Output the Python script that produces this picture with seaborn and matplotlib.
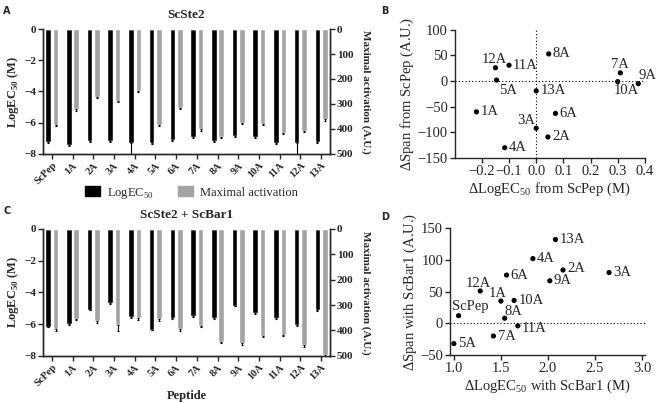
import numpy as np
import pandas as pd
import matplotlib.pyplot as plt
import seaborn as sns
from matplotlib.patches import Patch

peptides = ['ScPep', '1A', '2A', '3A', '4A', '5A', '6A', '7A', '8A', '9A', '10A', '11A', '12A', '13A']

# panel A: ScSte2
logec_a = [-7.22, -7.43, -7.16, -7.18, -7.3, -7.33, -7.12, -6.9, -7.16, -6.84, -6.9, -7.33, -7.33, -7.22]
logec_a_err = [0.05, 0.05, 0.05, 0.05, 1.0, 0.05, 0.05, 0.05, 0.05, 0.05, 0.05, 0.05, 1.0, 0.05]
maxact_a = [384, 322, 271, 287, 248, 384, 315, 402, 431, 375, 380, 415, 408, 361]
maxact_a_err = [6, 6, 6, 6, 6, 6, 6, 8, 6, 6, 6, 6, 6, 6]

# panel C: ScSte2 + ScBar1
logec_c = [-6.16, -6.0, -5.08, -4.7, -5.55, -6.35, -5.64, -5.5, -5.64, -4.84, -5.3, -5.64, -6.08, -5.14]
logec_c_err = [0.05] * 14
maxact_c = [395, 354, 364, 380, 352, 354, 395, 382, 445, 449, 421, 417, 459, 496]
maxact_c_err = [6, 6, 6, 22, 6, 8, 8, 6, 6, 8, 6, 6, 6, 6]

# panel B: change vs ScPep
b_labels = ['1A', '2A', '3A', '4A', '5A', '6A', '7A', '8A', '9A', '10A', '11A', '12A', '13A']
b_dlogec = [-0.22, 0.043, 0.0, -0.116, -0.146, 0.071, 0.31, 0.046, 0.376, 0.30, -0.10, -0.15, 0.0]
b_dspan = [-60, -109, -92, -130, 2, -63, 16, 53, -5, -1, 31, 26, -19]

# panel D: change with ScBar1
d_labels = ['ScPep', '1A', '2A', '3A', '4A', '5A', '6A', '7A', '8A', '9A', '10A', '11A', '12A', '13A']
d_dlogec = [1.05, 1.50, 2.16, 2.65, 1.84, 1.0, 1.56, 1.42, 1.54, 2.02, 1.64, 1.68, 1.28, 2.08]
d_dspan = [12, 35, 84, 80, 102, -32, 76, -20, 8, 67, 36, -4, 51, 132]

sns.set_style('ticks')
plt.rcParams['font.family'] = ['Liberation Serif', 'DejaVu Serif']
plt.rcParams['mathtext.fontset'] = 'custom'
plt.rcParams['mathtext.rm'] = 'Liberation Serif'
plt.rcParams['mathtext.bf'] = 'Liberation Serif:bold'
plt.rcParams['axes.linewidth'] = 1.0
plt.rcParams['xtick.major.width'] = 1.0
plt.rcParams['ytick.major.width'] = 1.0

gray = '#a3a3a3'
order = ['LogEC50', 'Maximal activation']
pal = {'LogEC50': 'black', 'Maximal activation': gray}

fig = plt.figure(figsize=(6.6, 4.03), dpi=100)


def add_err(ax, err, down_is_lower):
    bars = sorted([p for p in ax.patches if abs(p.get_height()) > 0], key=lambda p: p.get_x())
    xs = [p.get_x() + p.get_width() / 2 for p in bars]
    ends = [p.get_y() + p.get_height() for p in bars]
    zero = np.zeros(len(err))
    yerr = [err, zero] if down_is_lower else [zero, err]
    ax.errorbar(xs, ends, yerr=yerr, fmt='none', ecolor='black', elinewidth=0.8,
                capsize=1.0, capthick=0.8)


def bar_panel(rect, logec, logec_err, maxact, maxact_err, title, xlabel=None):
    ax = fig.add_axes(rect)
    zeros = [0.0] * len(peptides)
    # each axis gets both hue levels so the dodge matches; the other series is zero height
    df_l = pd.DataFrame({'Peptide': peptides * 2, 'value': list(logec) + zeros,
                         'series': ['LogEC50'] * 14 + ['Maximal activation'] * 14})
    df_m = pd.DataFrame({'Peptide': peptides * 2, 'value': zeros + list(maxact),
                         'series': ['LogEC50'] * 14 + ['Maximal activation'] * 14})
    sns.barplot(data=df_l, x='Peptide', y='value', hue='series', hue_order=order,
                palette=pal, width=0.72, gap=0.25, errorbar=None, legend=False, ax=ax)
    ax2 = ax.twinx()
    sns.barplot(data=df_m, x='Peptide', y='value', hue='series', hue_order=order,
                palette=pal, width=0.72, gap=0.25, errorbar=None, legend=False, ax=ax2)
    add_err(ax, logec_err, True)
    add_err(ax2, maxact_err, False)

    ax.set_ylim(-8, 0)
    ax.set_yticks([0, -2, -4, -6, -8])
    ax.set_yticklabels(['0', '\u22122', '\u22124', '\u22126', '\u22128'])
    ax2.set_ylim(500, 0)
    ax2.set_yticks([0, 100, 200, 300, 400, 500])
    ax.set_xlim(-0.43, 13.43)

    ax.spines['top'].set_visible(False)
    ax2.spines['top'].set_visible(False)
    ax.set_ylabel(r'LogEC$_\mathbf{50}$ (M)', fontsize=9, fontweight='bold', labelpad=2)
    ax2.set_ylabel('Maximal activation (A.U.)', fontsize=8, fontweight='bold',
                   rotation=270, labelpad=12)
    ax.set_xlabel(xlabel if xlabel else '', fontsize=9, fontweight='bold', labelpad=1)
    ax.set_title(title, fontsize=9.5, fontweight='bold', pad=8)

    ax.tick_params(axis='both', length=3.5, pad=1.5)
    ax2.tick_params(axis='y', length=3.5, pad=1.5)
    plt.setp(ax.get_yticklabels(), fontsize=8, fontweight='bold')
    plt.setp(ax2.get_yticklabels(), fontsize=8, fontweight='bold')
    ax.set_xticks(range(len(peptides)))
    ax.set_xticklabels(peptides, rotation=45, ha='right', rotation_mode='anchor',
                       fontsize=7.5, fontweight='bold')
    return ax


bar_panel([0.065, 0.618, 0.435, 0.310], logec_a, logec_a_err, maxact_a, maxact_a_err, 'ScSte2')
bar_panel([0.065, 0.117, 0.435, 0.315], logec_c, logec_c_err, maxact_c, maxact_c_err,
          'ScSte2 + ScBar1', 'Peptide')

fig.legend(handles=[Patch(color='black'), Patch(color=gray)],
           labels=[r'LogEC$_{50}$', 'Maximal activation'], loc='center',
           bbox_to_anchor=(0.29, 0.521), ncol=2, frameon=False, fontsize=9,
           handlelength=1.2, handleheight=0.9, columnspacing=2.0, handletextpad=0.5)


def scatter_panel(rect, xs, ys, labels, offsets, xlim, ylim, xticks, yticks, xlabel, ylabel, vline):
    ax = fig.add_axes(rect)
    df = pd.DataFrame({'x': xs, 'y': ys, 'label': labels})
    sns.scatterplot(data=df, x='x', y='y', color='black', s=14, edgecolor='none', ax=ax, zorder=3)
    ax.axhline(0, color='black', lw=0.8, ls=(0, (1, 2)), zorder=1)
    if vline:
        ax.axvline(0, color='black', lw=0.8, ls=(0, (1, 2)), zorder=1)
    for x, y, lab in zip(xs, ys, labels):
        dx, dy, ha, va = offsets.get(lab, (3, 0, 'left', 'center'))
        ax.annotate(lab, (x, y), xytext=(dx, dy), textcoords='offset points',
                    ha=ha, va=va, fontsize=10.5)
    ax.set_xlim(*xlim)
    ax.set_ylim(*ylim)
    ax.set_xticks(xticks)
    ax.set_yticks(yticks)
    ax.set_xticklabels([('%.1f' % t).replace('-', '\u2212') for t in xticks])
    ax.set_yticklabels([str(t).replace('-', '\u2212') for t in yticks])
    ax.tick_params(labelsize=10.5, length=3.5, pad=1.5)
    ax.set_xlabel(xlabel, fontsize=10.5, labelpad=2)
    ax.set_ylabel(ylabel, fontsize=10.5, labelpad=1)
    sns.despine(ax=ax)
    return ax


b_off = {
    '12A': (-1, 1, 'center', 'bottom'),
    '5A': (2, -3, 'left', 'top'),
    '7A': (0, 1, 'center', 'bottom'),
    '9A': (0, 1, 'left', 'bottom'),
    '10A': (-3, -2, 'left', 'top'),
    '3A': (-1, 1, 'right', 'bottom'),
}
scatter_panel([0.689, 0.608, 0.288, 0.318], b_dlogec, b_dspan, b_labels, b_off,
              (-0.3, 0.4), (-150, 100), [-0.2, -0.1, 0.0, 0.1, 0.2, 0.3, 0.4],
              [-150, -100, -50, 0, 50, 100],
              r'$\Delta$LogEC$_{50}$ from ScPep (M)', r'$\Delta$Span from ScPep (A.U.)', True)

d_off = {
    '12A': (-1, 1, 'center', 'bottom'),
    '1A': (-2, 1, 'center', 'bottom'),
    'ScPep': (-5, 2, 'left', 'bottom'),
    '8A': (0, 0, 'left', 'bottom'),
    '2A': (3, 1, 'left', 'center'),
    '11A': (3, -2, 'left', 'center'),
}
scatter_panel([0.682, 0.119, 0.295, 0.315], d_dlogec, d_dspan, d_labels, d_off,
              (0.96, 3.03), (-50, 150), [1.0, 1.5, 2.0, 2.5, 3.0],
              [-50, 0, 50, 100, 150],
              r'$\Delta$LogEC$_{50}$ with ScBar1 (M)', r'$\Delta$Span with ScBar1 (A.U.)', False)

for lab, x, y in [('A', 0.005, 0.985), ('B', 0.578, 0.985), ('C', 0.005, 0.49), ('D', 0.578, 0.475)]:
    fig.text(x, y, lab, fontsize=7, fontweight='bold', family='DejaVu Sans', va='top')

fig.savefig('out.png', dpi=100)
